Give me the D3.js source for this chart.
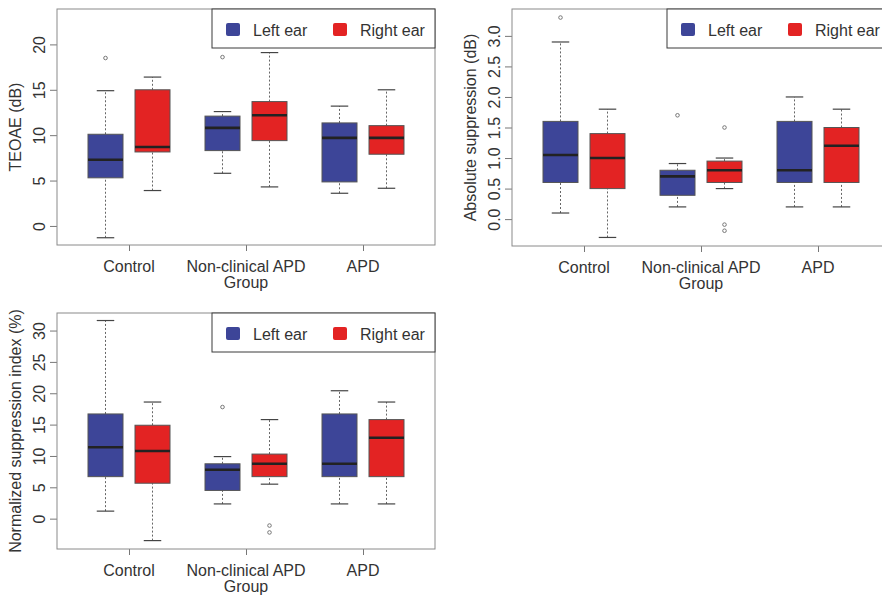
<!DOCTYPE html>
<meta charset="utf-8" />
<html>
  <style>
    body { margin: 0; background: #fff; }
    svg { font-family: "Liberation Sans", Arial, sans-serif; }
    .frame { fill: none; stroke: #8a8a8a; stroke-width: 1; }
    .legend-box { fill: #fff; stroke: #3a3a3a; stroke-width: 1; }
    .axis text { font-size: 16px; fill: #333; }
    .axis line { stroke: #777; }
    .label { font-size: 16px; fill: #333; }
  </style>
  <body>
    <svg width="882" height="595"></svg>
    <script src="https://cdn.jsdelivr.net/npm/d3@7"></script>
    <script>

  // Groups and ears
  var groups = ["Control", "Non-clinical APD|Group", "APD"];
  var ears = ["Left ear", "Right ear"];

  // Box stats per group: [low whisker, Q1, median, Q3, high whisker]
  var teoaeLeft = [[-1.3, 5.3, 7.3, 10.1, 14.9], [5.8, 8.3, 10.8, 12.1, 12.6], [3.6, 4.85, 9.7, 11.35, 13.2]];
  var teoaeRight = [[3.9, 8.15, 8.7, 15.0, 16.4], [4.3, 9.4, 12.2, 13.7, 19.1], [4.15, 7.9, 9.7, 11.05, 15.0]];
  var teoaeOutLeft = [[18.5], [18.6], []];
  var teoaeOutRight = [[], [], []];
  var teoaeTicks = [0, 5, 10, 15, 20];

  var absLeft = [[0.1, 0.6, 1.05, 1.6, 2.9], [0.2, 0.39, 0.7, 0.8, 0.91], [0.2, 0.6, 0.8, 1.6, 2.0]];
  var absRight = [[-0.3, 0.5, 1.0, 1.4, 1.8], [0.5, 0.6, 0.8, 0.95, 1.0], [0.2, 0.6, 1.2, 1.5, 1.8]];
  var absOutLeft = [[3.3], [1.7], []];
  var absOutRight = [[], [1.5, -0.09, -0.19], []];
  var absTicks = [0, 0.5, 1.0, 1.5, 2.0, 2.5, 3.0];

  var nsiLeft = [[1.2, 6.7, 11.4, 16.7, 31.6], [2.35, 4.5, 7.8, 8.75, 9.9], [2.35, 6.7, 8.75, 16.7, 20.4]];
  var nsiRight = [[-3.5, 5.65, 10.8, 14.9, 18.6], [5.5, 6.7, 8.75, 10.3, 15.8], [2.35, 6.7, 12.9, 15.8, 18.6]];
  var nsiOutLeft = [[], [17.8], []];
  var nsiOutRight = [[], [-1.1, -2.2], []];
  var nsiTicks = [0, 5, 10, 15, 20, 25, 30];

  var earColor = ["#3d4598", "#e32323"];

  var svg = d3.select("svg");

  // One panel = one boxplot with its own frame, axes and legend
  function drawPanel(p) {
    var g = svg.append("g");
    var right = p.left + p.width, bottom = p.top + p.height;

    var y = d3.scaleLinear().domain(p.domain).range([bottom, p.top]);
    var x = d3.scalePoint().domain(groups).range([p.left + 72, p.left + 306]);

    // y axis, labels rotated like R's default
    var ya = g.append("g")
      .attr("class", "axis")
      .attr("transform", "translate(" + p.left + ",0)")
      .call(d3.axisLeft(y).tickValues(p.ticks).tickSize(7).tickFormat(p.fmt));
    ya.select(".domain").remove();
    ya.selectAll("text")
      .attr("x", 0).attr("dy", 0)
      .attr("text-anchor", "middle")
      .attr("transform", "translate(-12,0) rotate(-90)");

    // x axis ticks and category labels
    var xa = g.append("g")
      .attr("class", "axis")
      .attr("transform", "translate(0," + bottom + ")")
      .call(d3.axisBottom(x).tickSize(6).tickFormat(""));
    xa.select(".domain").remove();

    groups.forEach(function (gr) {
      var lines = gr.split("|");
      var t = g.append("text").attr("class", "label")
        .attr("text-anchor", "middle")
        .attr("x", x(gr)).attr("y", bottom + 26.5);
      lines.forEach(function (l, i) {
        t.append("tspan").attr("x", x(gr)).attr("dy", i ? 16 : 0).text(l);
      });
    });

    // y title
    g.append("text").attr("class", "label")
      .attr("text-anchor", "middle")
      .attr("transform", "translate(" + (p.left - 36) + "," + (p.top + p.height / 2) + ") rotate(-90)")
      .text(p.title);

    // boxes
    var bw = 35;
    [p.left_, p.right_].forEach(function (stats, e) {
      var off = e === 0 ? -23.5 : 23.5;
      stats.forEach(function (s, i) {
        var cx = x(groups[i]) + off;
        var bg = g.append("g");
        // whiskers
        bg.append("line")
          .attr("x1", cx).attr("x2", cx).attr("y1", y(s[0])).attr("y2", y(s[1]))
          .attr("stroke", "#666").attr("stroke-dasharray", "2,2");
        bg.append("line")
          .attr("x1", cx).attr("x2", cx).attr("y1", y(s[3])).attr("y2", y(s[4]))
          .attr("stroke", "#666").attr("stroke-dasharray", "2,2");
        // caps
        [s[0], s[4]].forEach(function (v) {
          bg.append("line")
            .attr("x1", cx - bw / 4).attr("x2", cx + bw / 4)
            .attr("y1", y(v)).attr("y2", y(v))
            .attr("stroke", "#444").attr("stroke-width", 1.2);
        });
        bg.append("rect")
          .attr("x", cx - bw / 2).attr("width", bw)
          .attr("y", y(s[3])).attr("height", y(s[1]) - y(s[3]))
          .attr("fill", earColor[e])
          .attr("stroke", "#555").attr("stroke-width", 1);
        bg.append("line")
          .attr("x1", cx - bw / 2).attr("x2", cx + bw / 2)
          .attr("y1", y(s[2])).attr("y2", y(s[2]))
          .attr("stroke", "#222").attr("stroke-width", 2.6);
      });
    });

    // outliers
    [p.outL, p.outR].forEach(function (outs, e) {
      var off = e === 0 ? -23.5 : 23.5;
      outs.forEach(function (vals, i) {
        g.selectAll(null).data(vals).enter().append("circle")
          .attr("cx", x(groups[i]) + off)
          .attr("cy", function (d) { return y(d); })
          .attr("r", 1.8)
          .attr("fill", "none")
          .attr("stroke", "#777");
      });
    });

    // frame
    g.append("rect").attr("class", "frame")
      .attr("x", p.left).attr("y", p.top)
      .attr("width", p.width).attr("height", p.height);

    // legend in the top right corner
    var lx = right - 223;
    var lg = g.append("g");
    lg.append("rect").attr("class", "legend-box")
      .attr("x", lx).attr("y", p.top).attr("width", 223).attr("height", 39);
    ears.forEach(function (ear, e) {
      var sx = lx + (e === 0 ? 14 : 121);
      lg.append("rect")
        .attr("x", sx).attr("y", p.top + 14)
        .attr("width", 14).attr("height", 13)
        .attr("rx", 2)
        .attr("fill", earColor[e]);
      lg.append("text").attr("class", "label")
        .attr("x", sx + 27).attr("y", p.top + 26.5)
        .text(ear);
    });
  }

  drawPanel({
    left: 57, top: 9, width: 378, height: 236,
    domain: [-2.1, 23.9], ticks: teoaeTicks, fmt: d3.format("d"),
    title: "TEOAE (dB)",
    left_: teoaeLeft, right_: teoaeRight, outL: teoaeOutLeft, outR: teoaeOutRight
  });

  drawPanel({
    left: 512, top: 9, width: 378, height: 237,
    domain: [-0.44, 3.44], ticks: absTicks, fmt: d3.format(".1f"),
    title: "Absolute suppression (dB)",
    left_: absLeft, right_: absRight, outL: absOutLeft, outR: absOutRight
  });

  drawPanel({
    left: 57, top: 313, width: 378, height: 236,
    domain: [-4.84, 32.8], ticks: nsiTicks, fmt: d3.format("d"),
    title: "Normalized suppression index (%)",
    left_: nsiLeft, right_: nsiRight, outL: nsiOutLeft, outR: nsiOutRight
  });
    </script>
  </body>
</html>
